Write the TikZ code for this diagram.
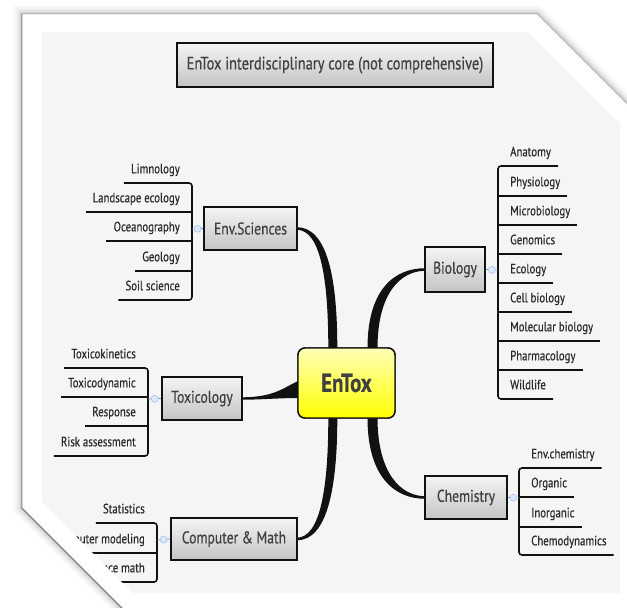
\documentclass[tikz,border=0pt]{standalone}
\usepackage{fontspec}
\setmainfont{PT Sans}[FakeStretch=0.8, FakeBold=0.5]
\usetikzlibrary{calc}
\definecolor{ink}{HTML}{2A2A2A}
\definecolor{boxtext}{HTML}{404040}
\definecolor{barc}{HTML}{111111}
\definecolor{boxtop}{HTML}{F4F4F4}
\definecolor{boxbot}{HTML}{C4C4C4}
\definecolor{hubtop}{HTML}{FFFFB8}
\definecolor{hubbot}{HTML}{FFFF00}
\definecolor{dotfill}{HTML}{DCE8FC}
\definecolor{dotdraw}{HTML}{A9C3EE}
\definecolor{linkc}{HTML}{7A8AA8}
\definecolor{inner}{HTML}{F5F5F5}
\newcommand\leaffont{\fontsize{13.5}{13.5}\selectfont}
\newcommand\branchfont{\fontsize{17}{17}\selectfont}
\newcommand\titlefont{\fontsize{18}{18}\selectfont}
\newcommand\hubfont{\fontsize{26}{26}\selectfont\bfseries}
\tikzset{
  leafbase/.style={font=\leaffont, text=ink, inner xsep=7pt, inner ysep=0pt, text height=8pt, text depth=9.5pt},
  leafL/.style={leafbase, anchor=south east},
  leafR/.style={leafbase, anchor=south west},
  bar/.style={draw=barc, line width=1.6pt},
  branch/.style={rectangle, draw=barc, line width=1.6pt, top color=boxtop, bottom color=boxbot, text=boxtext, font=\branchfont, inner sep=0pt},
  hub/.style={rectangle, rounded corners=7pt, draw=barc, line width=1.4pt, top color=hubtop, bottom color=hubbot, text=boxtext, font=\hubfont, inner sep=0pt},
  dot/.style={circle, inner sep=0pt, minimum size=7pt, fill=dotfill, draw=dotdraw, line width=0.6pt},
  link/.style={draw=linkc, densely dashed, line width=0.7pt},
  taper/.style={fill=barc},
}
\begin{document}
\begin{tikzpicture}[x=1pt,y=-1pt]
\useasboundingbox (0,0) rectangle (627,608);
% page with shadow
\foreach \w/\o in {16/0.03,11/0.04,7/0.05,4/0.07,2/0.10} {
  \draw[line width=\w pt, black, opacity=\o, line join=miter]
    (22,14) -- (537,14) -- (645,122) -- (645,625) -- (139,625) -- (22,508) -- cycle;
}
\fill[white] (22,14) -- (537,14) -- (645,122) -- (645,625) -- (139,625) -- (22,508) -- cycle;
\draw[black!55, line width=0.9pt] (22,14) -- (22,508) -- (139,625);
\draw[black!25, line width=0.7pt] (22,14) -- (537,14) -- (645,122);
\fill[inner] (42,32) -- (528,32) -- (620,124) -- (620,593) -- (133,593) -- (42,502) -- cycle;

% title
\node[branch, font=\titlefont, minimum width=316pt, minimum height=44pt] (title) at (335,65) {EnTox interdisciplinary core (not comprehensive)};

% hub and branches
\node[hub, minimum width=97pt, minimum height=70pt] (entox) at (346.5,383) {EnTox};
\node[branch, minimum width=93pt, minimum height=43pt] (env) at (250.5,228.5) {Env.Sciences};
\node[branch, minimum width=80pt, minimum height=43pt] (tox) at (202,398.5) {Toxicology};
\node[branch, minimum width=126pt, minimum height=42pt] (cm) at (234,539) {Computer \& Math};
\node[branch, minimum width=60pt, minimum height=45pt] (bio) at (455,269.5) {Biology};
\node[branch, minimum width=82pt, minimum height=43pt] (chem) at (466,497.5) {Chemistry};

% tapered connectors
\fill[taper] ($(env.east)+(-1,-1.3)$) .. controls +(30,0) and +(0,-72) .. ($(entox.north west)+(40,1)$)
  -- ($(entox.north west)+(31,1)$) .. controls +(0,-68) and +(24,0) .. ($(env.east)+(-1,1.3)$) -- cycle;
\fill[taper] ($(bio.west)+(1,-1.3)$) .. controls +(-30,0) and +(0,-60) .. ($(entox.north)+(21,1)$)
  -- ($(entox.north)+(31,1)$) .. controls +(0,-56) and +(-24,0) .. ($(bio.west)+(1,1.3)$) -- cycle;
\fill[taper] ($(cm.east)+(-1,1.3)$) .. controls +(30,0) and +(0,72) .. ($(entox.south west)+(40,-1)$)
  -- ($(entox.south west)+(31,-1)$) .. controls +(0,68) and +(24,0) .. ($(cm.east)+(-1,-1.3)$) -- cycle;
\fill[taper] ($(chem.west)+(1,1.3)$) .. controls +(-30,0) and +(0,60) .. ($(entox.south)+(21,-1)$)
  -- ($(entox.south)+(31,-1)$) .. controls +(0,56) and +(-24,0) .. ($(chem.west)+(1,-1.3)$) -- cycle;
\fill[taper] ($(tox.east)+(-1,-1.2)$) .. controls +(33,0) and +(-14,6) .. ($(entox.west)+(1,-2)$)
  -- ($(entox.west)+(1,15)$) .. controls +(-20,0) and +(20,0) .. ($(tox.east)+(-1,1.2)$) -- cycle;
% redraw hub over connector ends
\node[hub, minimum width=97pt, minimum height=70pt] (entox2) at (entox.center) {EnTox};

% Env.Sciences leaves
\coordinate (esb) at (192,229);
\node[leafL] (lim) at (187,183) {Limnology};
\node[leafL] (land) at (187,212) {Landscape ecology};
\node[leafL] (ocean) at (187,241) {Oceanography};
\node[leafL] (geo) at (187,271) {Geology};
\node[leafL] (soil) at (187,300) {Soil science};
\draw[bar, rounded corners=3pt] (lim.south west) -- (lim.south west -| esb) -- (soil.south west -| esb) -- (soil.south west);
\foreach \n in {land,ocean,geo} \draw[bar] (\n.south west) -- (\n.south west -| esb);
\draw[link] (env.west) -- (esb);
\node[dot] (esd) at ($(env.west)!0.5!(esb)$) {};

% Toxicology leaves
\coordinate (tb) at (148,399);
\node[leafL] (tk) at (143,368) {Toxicokinetics};
\node[leafL] (td) at (143,397) {Toxicodynamic};
\node[leafL] (resp) at (143,426) {Response};
\node[leafL] (risk) at (143,456) {Risk assessment};
\draw[bar, rounded corners=3pt] (tk.south west) -- (tk.south west -| tb) -- (risk.south west -| tb) -- (risk.south west);
\foreach \n in {td,resp} \draw[bar] (\n.south west) -- (\n.south west -| tb);
\draw[link] (tox.west) -- (tb);
\node[dot] (tbd) at ($(tox.west)!0.5!(tb)$) {};

% Computer & Math leaves (cut by the folded page corner)
\coordinate (cmb) at (157,540);
\begin{scope}
\clip (0,0) -- (627,0) -- (627,608) -- (148,608) -- (0,460) -- cycle;
\node[leafL] (stat) at (152,523) {Statistics};
\node[leafL] (cmod) at (152,553) {Computer modeling};
\node[leafL] (amath) at (152,582) {Advance math};
\draw[bar, rounded corners=3pt] (stat.south west) -- (stat.south west -| cmb) -- (amath.south west -| cmb) -- (amath.south west);
\draw[bar] (cmod.south west) -- (cmod.south west -| cmb);
\end{scope}
\draw[link] (cm.west) -- (cmb);
\node[dot] (cmd) at ($(cm.west)!0.5!(cmb)$) {};

% Biology leaves
\coordinate (bb) at (498,270);
\node[leafR] (ana) at (503,166) {Anatomy};
\node[leafR] (phys) at (503,196) {Physiology};
\node[leafR] (micro) at (503,225) {Microbiology};
\node[leafR] (gen) at (503,254) {Genomics};
\node[leafR] (eco) at (503,283) {Ecology};
\node[leafR] (cell) at (503,312) {Cell biology};
\node[leafR] (mol) at (503,341) {Molecular biology};
\node[leafR] (pharm) at (503,370) {Pharmacology};
\node[leafR] (wild) at (503,399) {Wildlife};
\draw[bar, rounded corners=3pt] (ana.south east) -- (ana.south east -| bb) -- (wild.south east -| bb) -- (wild.south east);
\foreach \n in {phys,micro,gen,eco,cell,mol,pharm} \draw[bar] (\n.south east) -- (\n.south east -| bb);
\draw[link] (bio.east) -- (bb);
\node[dot] (bbd) at ($(bio.east)!0.5!(bb)$) {};

% Chemistry leaves
\coordinate (chb) at (519,498);
\node[leafR] (envc) at (524,468) {Env.chemistry};
\node[leafR] (org) at (524,497) {Organic};
\node[leafR] (inorg) at (524,527) {Inorganic};
\node[leafR] (chemo) at (524,555) {Chemodynamics};
\draw[bar, rounded corners=3pt] (envc.south east) -- (envc.south east -| chb) -- (chemo.south east -| chb) -- (chemo.south east);
\foreach \n in {org,inorg} \draw[bar] (\n.south east) -- (\n.south east -| chb);
\draw[link] (chem.east) -- (chb);
\node[dot] (chd) at ($(chem.east)!0.5!(chb)$) {};
\end{tikzpicture}
\end{document}
